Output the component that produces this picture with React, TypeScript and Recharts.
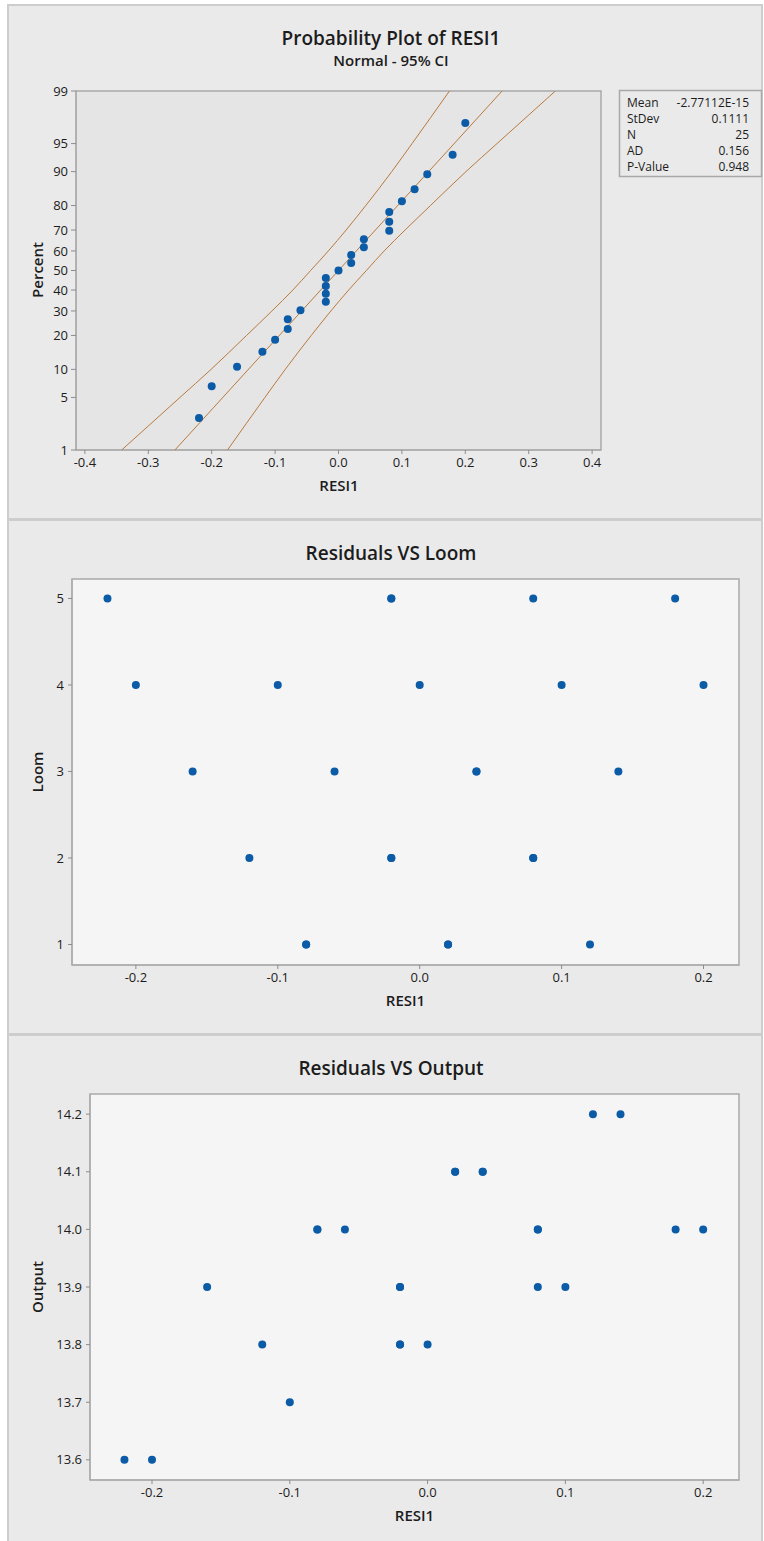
import React from 'react';
import { ScatterChart, Scatter, XAxis, YAxis, ReferenceArea } from 'recharts';

const residuals = [
  -0.08, -0.08, 0.02, 0.02, 0.12,
  -0.12, -0.02, -0.02, 0.08, 0.08,
  -0.16, -0.06, 0.04, 0.04, 0.14,
  -0.2, -0.1, 0.0, 0.1, 0.2,
  -0.22, -0.02, -0.02, 0.08, 0.18,
];
const looms = [1, 1, 1, 1, 1, 2, 2, 2, 2, 2, 3, 3, 3, 3, 3, 4, 4, 4, 4, 4, 5, 5, 5, 5, 5];
const outputs = [
  14.0, 14.0, 14.1, 14.1, 14.2,
  13.8, 13.9, 13.9, 14.0, 14.0,
  13.9, 14.0, 14.1, 14.1, 14.2,
  13.6, 13.7, 13.8, 13.9, 14.0,
  13.6, 13.8, 13.8, 13.9, 14.0,
];

// probability plot: ordered residuals and their plotting percents
const probResid = [-0.22, -0.2, -0.16, -0.12, -0.1, -0.08, -0.08, -0.06, -0.02, -0.02, -0.02, -0.02, 0.0, 0.02, 0.02, 0.04, 0.04, 0.08, 0.08, 0.08, 0.1, 0.12, 0.14, 0.18, 0.2];
const probPct = [2.8, 6.7, 10.6, 14.6, 18.5, 22.4, 26.4, 30.3, 34.3, 38.2, 42.1, 46.1, 50.0, 53.9, 57.9, 61.8, 65.7, 69.7, 73.6, 77.6, 81.5, 85.4, 89.4, 93.3, 97.2];

// fitted line and 95% CI bands
const fitPct = [1, 99];
const fitResid = [-0.258, 0.258];
const ciPct = [1, 5, 10, 20, 30, 40, 50, 60, 70, 80, 90, 95, 99];
const ciLeft = [-0.342, -0.25, -0.201, -0.145, -0.105, -0.072, -0.044, -0.016, 0.012, 0.043, 0.084, 0.116, 0.175];
const ciRight = [-0.175, -0.116, -0.084, -0.043, -0.012, 0.016, 0.044, 0.072, 0.105, 0.145, 0.201, 0.25, 0.342];

const pctTicks = [1, 5, 10, 20, 30, 40, 50, 60, 70, 80, 90, 95, 99];
const probXTicks = [-0.4, -0.3, -0.2, -0.1, 0.0, 0.1, 0.2, 0.3, 0.4];
const residTicks = [-0.2, -0.1, 0.0, 0.1, 0.2];
const loomTicks = [1, 2, 3, 4, 5];
const outputTicks = [13.6, 13.7, 13.8, 13.9, 14.0, 14.1, 14.2];

const statNames = ['Mean', 'StDev', 'N', 'AD', 'P-Value'];
const statValues = ['-2.77112E-15', '0.1111', '25', '0.156', '0.948'];

const FONT = "'Open Sans', 'Noto Sans', sans-serif";
const BLUE = '#0b5ba6';
const BROWN = '#b97a3e';
const FRAME = '#a9a9a9';
const INK = '#1c1c1c';

// normal quantile (Acklam) used for the probability axis
function probit(p: number) {
  const a = [-39.69683028665376, 220.9460984245205, -275.9285104469687, 138.357751867269, -30.66479806614716, 2.506628277459239];
  const b = [-54.47609879822406, 161.5858368580409, -155.6989798598866, 66.80131188771972, -13.28068155288572];
  const c = [-0.007784894002430293, -0.3223964580411365, -2.400758277161838, -2.549671002558462, 4.374664141464968, 2.938163982698783];
  const d = [0.007784695709041462, 0.3224671290700398, 2.445134137142996, 3.754408661907416];
  const tail = (q: number) =>
    (((((c[0] * q + c[1]) * q + c[2]) * q + c[3]) * q + c[4]) * q + c[5]) / ((((d[0] * q + d[1]) * q + d[2]) * q + d[3]) * q + 1);
  if (p < 0.02425) return tail(Math.sqrt(-2 * Math.log(p)));
  if (p > 1 - 0.02425) return -tail(Math.sqrt(-2 * Math.log(1 - p)));
  const q = p - 0.5;
  const r = q * q;
  return ((((((a[0] * r + a[1]) * r + a[2]) * r + a[3]) * r + a[4]) * r + a[5]) * q) /
    (((((b[0] * r + b[1]) * r + b[2]) * r + b[3]) * r + b[4]) * r + 1);
}
const z = (pct: number) => probit(pct / 100);

const probPoints = probResid.map((x, i) => ({ x, y: z(probPct[i]) }));
const fitLine = fitResid.map((x, i) => ({ x, y: z(fitPct[i]) }));
const ciLeftLine = ciLeft.map((x, i) => ({ x, y: z(ciPct[i]) }));
const ciRightLine = ciRight.map((x, i) => ({ x, y: z(ciPct[i]) }));
const zTicks = pctTicks.map(z);

const loomPoints = residuals.map((x, i) => ({ x, y: looms[i] }));
const outputPoints = residuals.map((x, i) => ({ x, y: outputs[i] }));

const dot = (props: any) => <circle cx={props.cx} cy={props.cy} r={4} fill={BLUE} />;
const noDot = () => <g />;
const tickStyle = { fontSize: 13, fill: INK, fontFamily: FONT };

function Panel({ top, height, children, overlay }: any) {
  return (
    <div style={{ position: 'absolute', left: 0, top, width: 764, height }}>
      <div
        style={{
          position: 'absolute', left: 7, top: 4, width: 752, height: height - 8,
          background: '#eaeaea', border: '2px solid #cdcdcd',
        }}
      />
      <div style={{ position: 'absolute', left: 0, top: 0 }}>{children}</div>
      <svg width={764} height={height} style={{ position: 'absolute', left: 0, top: 0, pointerEvents: 'none' }}>
        <g fontFamily={FONT} fill={INK}>{overlay}</g>
      </svg>
    </div>
  );
}

function Titles({ title, sub, xLabel, xMid, yLabel, yMid }: any) {
  return (
    <>
      <text x={391} y={45} textAnchor="middle" fontSize={19} fontWeight={600}>{title}</text>
      {sub && <text x={391} y={66} textAnchor="middle" fontSize={15} fontWeight={600}>{sub}</text>}
      <text x={xMid} y={491} textAnchor="middle" fontSize={15} fontWeight={600}>{xLabel}</text>
      <text x={43} y={yMid} transform={`rotate(-90 43 ${yMid})`} textAnchor="middle" fontSize={15} fontWeight={600}>{yLabel}</text>
    </>
  );
}

export default function App() {
  return (
    <div style={{ position: 'absolute', left: 0, top: 0, width: 764, height: 1541, background: '#ffffff' }}>
      <Panel
        top={0}
        height={520}
        overlay={
          <>
            <Titles title="Probability Plot of RESI1" sub="Normal - 95% CI" xLabel="RESI1" xMid={339} yLabel="Percent" yMid={270} />
            <rect x={619.5} y={90.5} width={142} height={86} fill="none" stroke={FRAME} strokeWidth={1.5} />
            {statNames.map((s, i) => (
              <g key={s} fontSize={12}>
                <text x={627} y={107 + i * 16}>{s}</text>
                <text x={749} y={107 + i * 16} textAnchor="end">{statValues[i]}</text>
              </g>
            ))}
          </>
        }
      >
        <ScatterChart width={764} height={516} margin={{ top: 91, right: 163, bottom: 36, left: 0 }}>
          <XAxis
            type="number" dataKey="x" domain={[-0.414, 0.414]} ticks={probXTicks} allowDataOverflow interval={0}
            tickFormatter={(v: number) => v.toFixed(1)} tick={tickStyle} height={30}
            axisLine={{ stroke: FRAME }} tickLine={{ stroke: '#8c8c8c' }} tickSize={4} tickMargin={4}
          />
          <YAxis
            type="number" dataKey="y" domain={[z(1), z(99)]} ticks={zTicks} allowDataOverflow interval={0}
            tickFormatter={(v: number) => String(pctTicks[zTicks.indexOf(v)])} tick={tickStyle} width={76}
            axisLine={{ stroke: FRAME }} tickLine={{ stroke: '#8c8c8c' }} tickSize={5} tickMargin={3}
          />
          <ReferenceArea x1={-0.414} x2={0.414} y1={z(1)} y2={z(99)} fill="#e5e5e5" fillOpacity={1} stroke={FRAME} strokeWidth={1.5} />
          <Scatter data={ciLeftLine} line={{ stroke: BROWN, strokeWidth: 1 }} lineJointType="monotoneX" shape={noDot} isAnimationActive={false} />
          <Scatter data={fitLine} line={{ stroke: BROWN, strokeWidth: 1 }} shape={noDot} isAnimationActive={false} />
          <Scatter data={ciRightLine} line={{ stroke: BROWN, strokeWidth: 1 }} lineJointType="monotoneX" shape={noDot} isAnimationActive={false} />
          <Scatter data={probPoints} shape={dot} isAnimationActive={false} />
        </ScatterChart>
      </Panel>

      <Panel
        top={515}
        height={520}
        overlay={<Titles title="Residuals VS Loom" xLabel="RESI1" xMid={405.5} yLabel="Loom" yMid={257} />}
      >
        <ScatterChart width={764} height={516} margin={{ top: 64, right: 25, bottom: 36, left: 0 }}>
          <XAxis
            type="number" dataKey="x" domain={[-0.245, 0.225]} ticks={residTicks} allowDataOverflow interval={0}
            tickFormatter={(v: number) => v.toFixed(1)} tick={tickStyle} height={30}
            axisLine={{ stroke: FRAME }} tickLine={{ stroke: '#8c8c8c' }} tickSize={4} tickMargin={4}
          />
          <YAxis
            type="number" dataKey="y" domain={[0.763, 5.225]} ticks={loomTicks} allowDataOverflow interval={0}
            tick={tickStyle} width={72}
            axisLine={{ stroke: FRAME }} tickLine={{ stroke: '#8c8c8c' }} tickSize={4} tickMargin={4}
          />
          <ReferenceArea x1={-0.245} x2={0.225} y1={0.763} y2={5.225} fill="#f5f5f5" fillOpacity={1} stroke={FRAME} strokeWidth={1.5} />
          <Scatter data={loomPoints} shape={dot} isAnimationActive={false} />
        </ScatterChart>
      </Panel>

      <Panel
        top={1030}
        height={515}
        overlay={<Titles title="Residuals VS Output" xLabel="RESI1" xMid={414.5} yLabel="Output" yMid={257} />}
      >
        <ScatterChart width={764} height={511} margin={{ top: 64, right: 25, bottom: 31, left: 0 }}>
          <XAxis
            type="number" dataKey="x" domain={[-0.245, 0.226]} ticks={residTicks} allowDataOverflow interval={0}
            tickFormatter={(v: number) => v.toFixed(1)} tick={tickStyle} height={30}
            axisLine={{ stroke: FRAME }} tickLine={{ stroke: '#8c8c8c' }} tickSize={4} tickMargin={4}
          />
          <YAxis
            type="number" dataKey="y" domain={[13.565, 14.235]} ticks={outputTicks} allowDataOverflow interval={0}
            tickFormatter={(v: number) => v.toFixed(1)} tick={tickStyle} width={90}
            axisLine={{ stroke: FRAME }} tickLine={{ stroke: '#8c8c8c' }} tickSize={4} tickMargin={4}
          />
          <ReferenceArea x1={-0.245} x2={0.226} y1={13.565} y2={14.235} fill="#f5f5f5" fillOpacity={1} stroke={FRAME} strokeWidth={1.5} />
          <Scatter data={outputPoints} shape={dot} isAnimationActive={false} />
        </ScatterChart>
      </Panel>
    </div>
  );
}
